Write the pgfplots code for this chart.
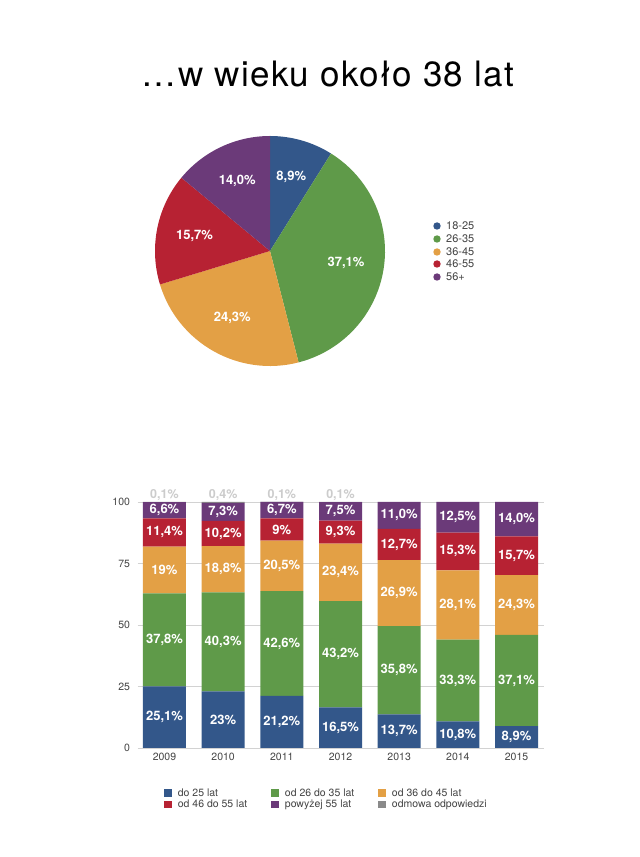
\documentclass[border=0pt]{standalone}
\usepackage{fontspec}
\setmainfont{TeX Gyre Heros}
\usepackage{pgfplots}
\usepackage{pgfplotstable}
\pgfplotsset{compat=1.18}
\definecolor{cblue}{HTML}{33578A}
\definecolor{cgreen}{HTML}{5F9A49}
\definecolor{corange}{HTML}{E3A045}
\definecolor{cred}{HTML}{B72233}
\definecolor{cpurple}{HTML}{6B3A79}
\definecolor{cgrey}{HTML}{8A8A8A}
\definecolor{ctext}{HTML}{444444}

\pgfplotstableread{
x a b c d e f
0 25.1 37.8 19.0 11.4 6.6 0.1
1 23.0 40.3 18.8 10.2 7.3 0.4
2 21.2 42.6 20.5 9.0 6.7 0.1
3 16.5 43.2 23.4 9.3 7.5 0.1
4 13.7 35.8 26.9 12.7 11.0 0
5 10.8 33.3 28.1 15.3 12.5 0
6 8.9 37.1 24.3 15.7 14.0 0
}\bardata

\pgfplotstableread{
x y label
0 12.55 25,1
0 44.0 37,8
0 72.4 19
0 87.6 11,4
0 96.6 6,6
1 11.5 23
1 43.15 40,3
1 72.7 18,8
1 87.2 10,2
1 95.95 7,3
2 10.6 21,2
2 42.5 42,6
2 74.05 20,5
2 88.8 9
2 96.65 6,7
3 8.25 16,5
3 38.1 43,2
3 71.4 23,4
3 87.75 9,3
3 96.15 7,5
4 6.85 13,7
4 31.6 35,8
4 62.95 26,9
4 82.75 12,7
4 94.6 11,0
5 5.4 10,8
5 27.45 33,3
5 58.15 28,1
5 80.05 15,3
5 93.75 12,5
6 4.45 8,9
6 27.45 37,1
6 58.15 24,3
6 78.15 15,7
6 93.0 14,0
}\barlabels

\pgfplotstableread{
x y label
0 103.0 0,1
1 103.0 0,4
2 103.0 0,1
3 103.0 0,1
}\toplabels

\begin{document}
\begin{tikzpicture}
\useasboundingbox (0,0) rectangle (640pt,857pt);

% title
\node[anchor=base, font=\fontsize{35}{40}\selectfont\addfontfeature{LetterSpace=4}] at (328pt,770pt) {…w wieku około 38 lat};

% pie data (percent)
\def\pA{8.9}\def\pB{37.1}\def\pC{24.3}\def\pD{15.7}\def\pE{14.0}
\pgfmathsetmacro\aA{90}
\pgfmathsetmacro\aB{\aA-3.6*\pA}
\pgfmathsetmacro\aC{\aB-3.6*\pB}
\pgfmathsetmacro\aD{\aC-3.6*\pC}
\pgfmathsetmacro\aE{\aD-3.6*\pD}
\pgfmathsetmacro\aF{\aE-3.6*\pE}
\pgfmathsetmacro\mA{(\aA+\aB)/2}
\pgfmathsetmacro\mB{(\aB+\aC)/2}
\pgfmathsetmacro\mC{(\aC+\aD)/2}
\pgfmathsetmacro\mD{(\aD+\aE)/2}
\pgfmathsetmacro\mE{(\aE+\aF)/2}

\begin{axis}[at={(270pt,606pt)}, anchor=center, scale only axis,
  width=230pt, height=230pt, xmin=-1, xmax=1, ymin=-1, ymax=1,
  hide axis, clip=false]
\fill[cblue] (axis cs:0,0) -- ++(\aA:115pt) arc[start angle=\aA, end angle=\aB, radius=115pt] -- cycle;
\fill[cgreen] (axis cs:0,0) -- ++(\aB:115pt) arc[start angle=\aB, end angle=\aC, radius=115pt] -- cycle;
\fill[corange] (axis cs:0,0) -- ++(\aC:115pt) arc[start angle=\aC, end angle=\aD, radius=115pt] -- cycle;
\fill[cred] (axis cs:0,0) -- ++(\aD:115pt) arc[start angle=\aD, end angle=\aE, radius=115pt] -- cycle;
\fill[cpurple] (axis cs:0,0) -- ++(\aE:115pt) arc[start angle=\aE, end angle=\aF, radius=115pt] -- cycle;
\begin{scope}[every node/.style={text=white, font=\fontsize{13}{15}\selectfont\bfseries}]
\path (axis cs:0,0) ++(\mA:77pt) node {8,9\%};
\path (axis cs:0,0) ++(\mB:77pt) node {37,1\%};
\path (axis cs:0,0) ++(\mC:77pt) node {24,3\%};
\path (axis cs:0,0) ++(\mD:77pt) node {15,7\%};
\path (axis cs:0,0) ++(\mE:77pt) node {14,0\%};
\end{scope}
\end{axis}

% pie legend
\begin{scope}[every node/.style={anchor=west, text=ctext, font=\fontsize{11}{13}\selectfont, inner sep=0pt}]
\fill[cblue] (437pt,631pt) circle (3.7pt); \node at (446pt,631pt) {18-25};
\fill[cgreen] (437pt,618pt) circle (3.7pt); \node at (446pt,618pt) {26-35};
\fill[corange] (437pt,605pt) circle (3.7pt); \node at (446pt,605pt) {36-45};
\fill[cred] (437pt,593pt) circle (3.7pt); \node at (446pt,593pt) {46-55};
\fill[cpurple] (437pt,580pt) circle (3.7pt); \node at (446pt,580pt) {56+};
\end{scope}

% stacked bars
\begin{axis}[at={(137.5pt,109pt)}, anchor=south west, scale only axis,
  width=406pt, height=246pt,
  xmin=-0.46, xmax=6.46, ymin=0, ymax=100,
  ybar stacked, bar width=43pt,
  axis line style={draw=none}, major tick length=0pt,
  ymajorgrids, grid style={gray!35, line width=0.8pt},
  ytick={0,25,50,75,100},
  xtick={0,1,2,3,4,5,6},
  xticklabels={2009,2010,2011,2012,2013,2014,2015},
  /pgf/number format/assume math mode=true,
  ticklabel style={font=\fontsize{10.5}{12}\selectfont, text=ctext},
  xticklabel style={yshift=-2pt},
  yticklabel style={xshift=-4pt},
  legend columns=3,
  legend style={at={(axis description cs:0.058,-0.148)}, anchor=north west,
    draw=none, fill=none, font=\fontsize{10.5}{12}\selectfont, text=ctext,
    /tikz/every odd column/.append style={column sep=4pt},
    /tikz/every even column/.append style={column sep=22pt},
    row sep=-2pt},
  legend cell align=left,
  legend image code/.code={\fill[#1] (0pt,-3.8pt) rectangle (7.6pt,3.8pt);},
]
\addplot[fill=cblue, draw=none] table[x=x, y=a] {\bardata};
\addlegendentry{do 25 lat}
\addplot[fill=cgreen, draw=none] table[x=x, y=b] {\bardata};
\addlegendentry{od 26 do 35 lat}
\addplot[fill=corange, draw=none] table[x=x, y=c] {\bardata};
\addlegendentry{od 36 do 45 lat}
\addplot[fill=cred, draw=none] table[x=x, y=d] {\bardata};
\addlegendentry{od 46 do 55 lat}
\addplot[fill=cpurple, draw=none] table[x=x, y=e] {\bardata};
\addlegendentry{powyżej 55 lat}
\addplot[fill=cgrey, draw=none] table[x=x, y=f] {\bardata};
\addlegendentry{odmowa odpowiedzi}
\end{axis}

% bar labels overlay
\begin{axis}[at={(137.5pt,109pt)}, anchor=south west, scale only axis,
  width=406pt, height=246pt,
  xmin=-0.46, xmax=6.46, ymin=0, ymax=100, hide axis, clip=false]
\addplot[draw=none, mark=none, nodes near coords={\pgfplotspointmeta\%},
  point meta=explicit symbolic,
  every node near coord/.append style={anchor=center, text=white,
    font=\fontsize{13}{15}\selectfont\bfseries}]
  table[x=x, y=y, meta=label] {\barlabels};
\addplot[draw=none, mark=none, nodes near coords={\pgfplotspointmeta\%},
  point meta=explicit symbolic,
  every node near coord/.append style={anchor=center, text=gray!40,
    font=\fontsize{12.5}{15}\selectfont\bfseries}]
  table[x=x, y=y, meta=label] {\toplabels};
\end{axis}
\end{tikzpicture}
\end{document}
